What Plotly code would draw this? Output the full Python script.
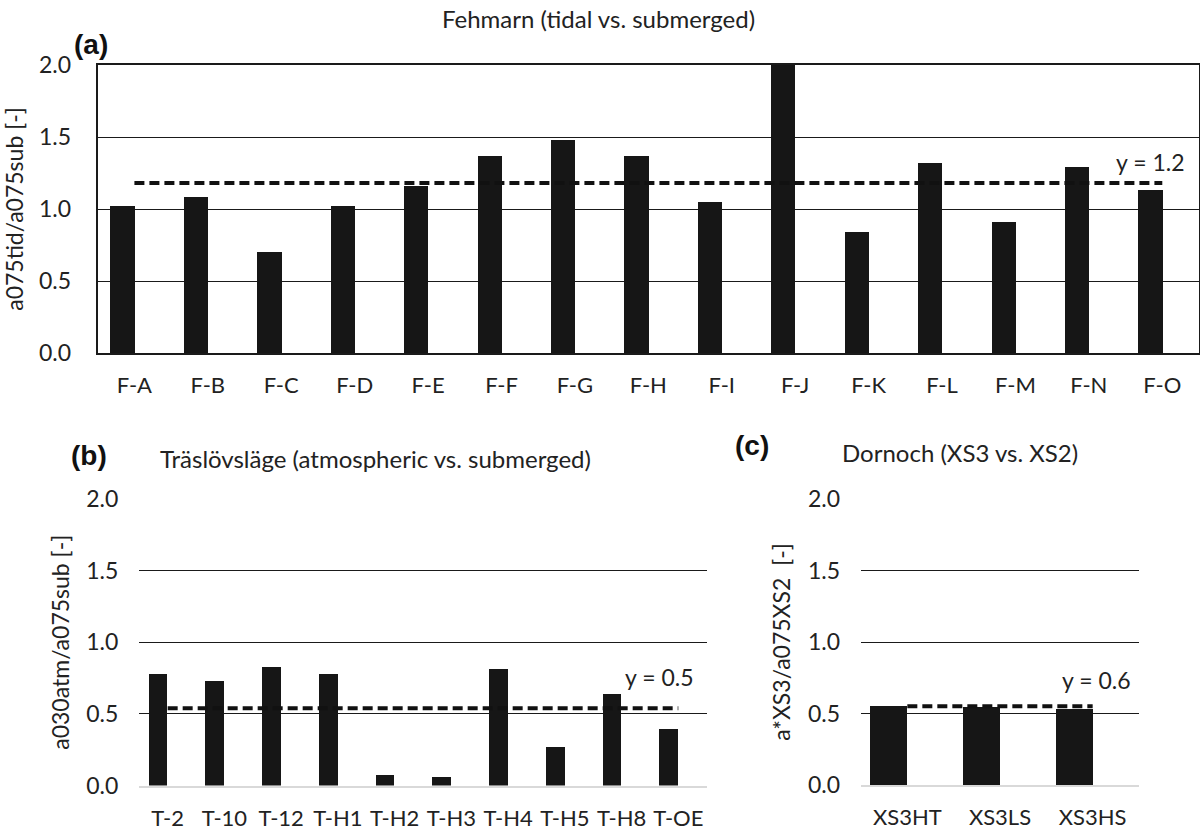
import plotly.graph_objects as go

# ---------------- data ----------------
cats_a = ["F-A", "F-B", "F-C", "F-D", "F-E", "F-F", "F-G", "F-H", "F-I", "F-J",
          "F-K", "F-L", "F-M", "F-N", "F-O"]
vals_a = [1.02, 1.08, 0.70, 1.02, 1.16, 1.37, 1.48, 1.37, 1.05, 2.10,
          0.84, 1.32, 0.91, 1.29, 1.13]
mean_a = 1.18
label_a = "y = 1.2"

cats_b = ["T-2", "T-10", "T-12", "T-H1", "T-H2", "T-H3", "T-H4", "T-H5", "T-H8", "T-OE"]
vals_b = [0.78, 0.73, 0.83, 0.78, 0.07, 0.06, 0.81, 0.27, 0.64, 0.395]
mean_b = 0.54
label_b = "y = 0.5"

cats_c = ["XS3HT", "XS3LS", "XS3HS"]
vals_c = [0.555, 0.545, 0.53]
mean_c = 0.55
label_c = "y = 0.6"

ytitle_a = "a075tid/a075sub [-]"
ytitle_b = "a030atm/a075sub [-]"
ytitle_c = "a*XS3/a075XS2  [-]"
title_a = "Fehmarn (tidal vs. submerged)"
title_b = "Träslövsläge (atmospheric vs. submerged)"
title_c = "Dornoch (XS3 vs. XS2)"
yticks = [0, 0.5, 1.0, 1.5, 2.0]
yticktext = ["0.0", "0.5", "1.0", "1.5", "2.0"]

# ---------------- figure ----------------
W, H = 1200, 831
FONT = "Lato"
FS = 23
FX = 22
FT = 24
BAR = "#161616"
TXT = "#222222"

def px(x):
    return x / W

def py(y):
    return 1 - y / H

fig = go.Figure()

# bars (right edge at category centre, like an Excel clustered chart)
fig.add_trace(go.Bar(x=cats_a, y=vals_a, width=0.33, offset=-0.33,
                     marker=dict(color=BAR, line=dict(width=0)),
                     xaxis="x", yaxis="y", showlegend=False))
fig.add_trace(go.Bar(x=cats_b, y=vals_b, width=0.33, offset=-0.33,
                     marker=dict(color=BAR, line=dict(width=0)),
                     xaxis="x2", yaxis="y2", showlegend=False))
fig.add_trace(go.Bar(x=cats_c, y=vals_c, width=0.4, offset=-0.4,
                     marker=dict(color=BAR, line=dict(width=0)),
                     xaxis="x3", yaxis="y3", showlegend=False))

# dashed mean lines
for cats, m, xa, ya in [(cats_a, mean_a, "x", "y"), (cats_b, mean_b, "x2", "y2"),
                        (cats_c, mean_c, "x3", "y3")]:
    fig.add_trace(go.Scatter(x=[cats[0], cats[-1]], y=[m, m], mode="lines",
                             line=dict(color="#111111", width=4, dash="10px,5px"),
                             xaxis=xa, yaxis=ya, showlegend=False, hoverinfo="skip"))

common_y = dict(range=[0, 2], tickvals=yticks, ticktext=yticktext,
                showgrid=True, gridcolor="#1a1a1a", gridwidth=1.3,
                zeroline=False, ticks="", ticklabelstandoff=20, automargin=False,
                tickfont=dict(family=FONT, size=FS, color=TXT),
                title_font=dict(family=FONT, size=FS, color=TXT))
common_x = dict(type="category", showgrid=False, zeroline=False, ticks="",
                ticklabelstandoff=12, automargin=False,
                tickfont=dict(family=FONT, size=FX, color=TXT))

fig.update_layout(
    width=W, height=H,
    margin=dict(l=0, r=0, t=0, b=0, autoexpand=False),
    paper_bgcolor="white", plot_bgcolor="white",
    bargap=0,
    xaxis=dict(**common_x, domain=[px(97.7), px(1199)], range=[-0.5, 14.5],
               showline=True, mirror=True, linecolor="#1a1a1a", linewidth=2,
               anchor="y"),
    yaxis=dict(**common_y, domain=[py(353), py(65)],
               showline=True, mirror=True, linecolor="#1a1a1a", linewidth=2,
               title=dict(text=ytitle_a, standoff=10), anchor="x"),
    xaxis2=dict(**common_x, domain=[px(139.3), px(706.7)], range=[-0.5, 9.5],
                showline=True, linecolor="#d9d9d9", linewidth=2, anchor="y2"),
    yaxis2=dict(**common_y, domain=[py(785.5), py(499)], showline=False,
                title=dict(text=ytitle_b, standoff=10), anchor="x2"),
    xaxis3=dict(**common_x, domain=[px(861), px(1139)], range=[-0.5, 2.5],
                showline=True, linecolor="#d9d9d9", linewidth=2, anchor="y3"),
    yaxis3=dict(**common_y, domain=[py(785), py(499)], showline=False,
                title=dict(text=ytitle_c, standoff=10), anchor="x3"),
)

ann = []
# panel letters and titles
for t, x, y in [("(a)", 91, 44), ("(b)", 89, 455), ("(c)", 752, 445)]:
    ann.append(dict(text="<b>" + t + "</b>", x=px(x), y=py(y), xref="paper", yref="paper",
                    xanchor="center", yanchor="middle", showarrow=False,
                    font=dict(family="Liberation Sans", size=28, color="#111")))
ann.append(dict(text=title_a, x=px(598), y=py(19), xref="paper", yref="paper",
                xanchor="center", yanchor="middle",
                showarrow=False, font=dict(family=FONT, size=FT, color=TXT)))
ann.append(dict(text=title_b, x=px(158), y=py(458), xref="paper", yref="paper",
                xanchor="left", yanchor="middle",
                showarrow=False, font=dict(family=FONT, size=FT, color=TXT)))
ann.append(dict(text=title_c, x=px(840), y=py(452), xref="paper", yref="paper",
                xanchor="left", yanchor="middle",
                showarrow=False, font=dict(family=FONT, size=FT, color=TXT)))
# mean labels
ann.append(dict(text=label_a, x=cats_a[-1], y=mean_a, xref="x", yref="y",
                xanchor="right", yanchor="middle", xshift=25, yshift=21,
                showarrow=False, font=dict(family=FONT, size=FS, color=TXT)))
ann.append(dict(text=label_b, x=cats_b[-1], y=mean_b, xref="x2", yref="y2",
                xanchor="right", yanchor="middle", xshift=18, yshift=31,
                showarrow=False, font=dict(family=FONT, size=FS, color=TXT)))
ann.append(dict(text=label_c, x=cats_c[-1], y=mean_c, xref="x3", yref="y3",
                xanchor="right", yanchor="middle", xshift=40, yshift=26,
                showarrow=False, font=dict(family=FONT, size=FS, color=TXT)))
fig.update_layout(annotations=ann)

fig.write_html("out.html")
